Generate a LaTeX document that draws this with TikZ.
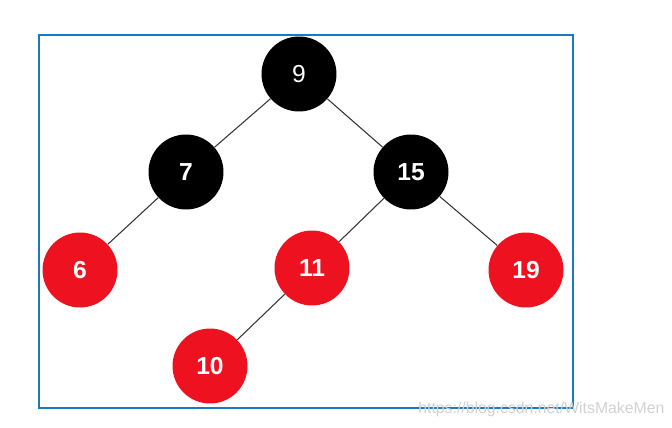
\documentclass[tikz,border=0pt]{standalone}
\usepackage{fontspec}
\setmainfont{Liberation Sans}
\usepackage{tikz}
\definecolor{rbred}{RGB}{238,18,32}
\definecolor{frameblue}{RGB}{30,120,190}
\tikzset{
  rbnode/.style={circle,minimum size=1.5cm,inner sep=0pt,text=white,font=\fontsize{14}{16}\selectfont\bfseries},
  blk/.style={rbnode,fill=black},
  rd/.style={rbnode,fill=rbred},
  edge/.style={draw=black!80,line width=0.6pt}
}

\begin{document}
\begin{tikzpicture}[x=0.02cm,y=-0.02cm]
  \useasboundingbox (0,0) rectangle (672,428);
  \draw[frameblue,line width=1pt] (39,35) rectangle (573,408);
  \node[blk,font=\fontsize{14}{16}\selectfont] (n9) at (299,74) {9};
  \node[blk] (n7) at (186,172) {7};
  \node[blk] (n15) at (411,172) {15};
  \node[rd] (n6) at (80,270) {6};
  \node[rd] (n11) at (312,268) {11};
  \node[rd] (n19) at (526,270) {19};
  \node[rd] (n10) at (210,366) {10};
  \draw[edge] (n9) -- (n7);
  \draw[edge] (n9) -- (n15);
  \draw[edge] (n7) -- (n6);
  \draw[edge] (n15) -- (n11);
  \draw[edge] (n15) -- (n19);
  \draw[edge] (n11) -- (n10);
  \node[text=black!18,font=\fontsize{9}{11}\selectfont,anchor=west,inner sep=0pt] (wm) at (418,409) {https://blog.csdn.net/WitsMakeMen};
\end{tikzpicture}
\end{document}
